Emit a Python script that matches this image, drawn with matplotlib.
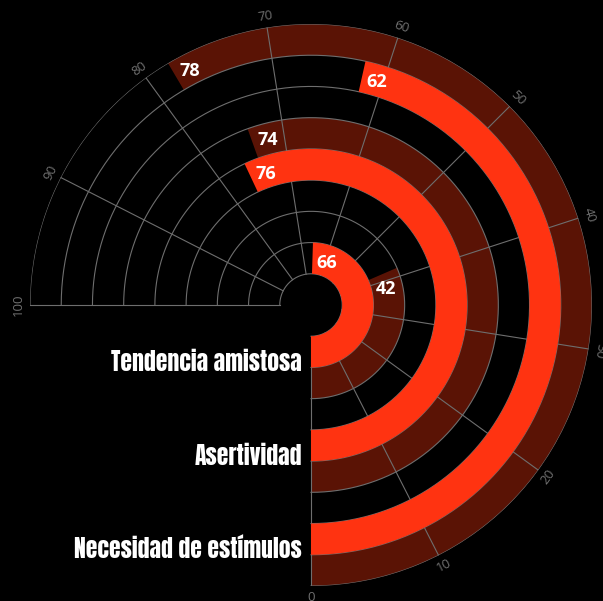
import numpy as np
import matplotlib
matplotlib.use("Agg")
import matplotlib.pyplot as plt
from matplotlib import transforms

categories = ["Tendencia amistosa", "Asertividad", "Necesidad de estímulos"]
bright_values = [66, 76, 62]
dark_values = [42, 74, 78]
tick_values = [0, 10, 20, 30, 40, 50, 60, 70, 80, 90, 100]

BRIGHT = "#ff3311"
DARK = "#621506"
GRID = "#6e6e6e"
SPAN = 1.5 * np.pi  # 0..100 covers 270 degrees


def ang(v):
    return v / 100.0 * SPAN


fig = plt.figure(figsize=(6.03, 6.01), dpi=100, facecolor="black")
# centre at (311, 305) px, outer radius 281 px
ax = fig.add_axes([30 / 603, 15 / 601, 562 / 603, 562 / 601], projection="polar")
ax.set_facecolor("black")
ax.set_theta_zero_location("S")
ax.set_theta_direction(1)
ax.set_ylim(0, 9)
ax.grid(False)
ax.set_xticks([])
ax.set_yticks([])
ax.spines["polar"].set_visible(False)
px_per_r = 281 / 9

# grid: circles and spokes on the 270 degree span
t = np.linspace(0, SPAN, 400)
for r in range(1, 10):
    ax.plot(t, np.full_like(t, r), color=GRID, lw=0.8, zorder=2)
for v in tick_values:
    ax.plot([ang(v), ang(v)], [1, 9], color=GRID, lw=0.8, zorder=2)
    rot = 2.7 * v
    if rot > 80:
        rot -= 180
    ax.text(ang(v), 9.36, str(v), color="#707070", fontsize=9.5, rotation=rot,
            ha="center", va="center", rotation_mode="anchor", family="Open Sans")

# bars: bright ring inside, dark ring outside, one group per category
for i, cat in enumerate(categories):
    rb = 1 + 3 * i
    rd = 2 + 3 * i
    ax.bar(0, 1, width=ang(bright_values[i]), bottom=rb, align="edge",
           color=BRIGHT, edgecolor="none", zorder=3)
    ax.bar(0, 1, width=ang(dark_values[i]), bottom=rd, align="edge",
           color=DARK, edgecolor="none", alpha=0.93, zorder=1.5)
    for val, r in [(bright_values[i], rb + 0.45), (dark_values[i], rd + 0.45)]:
        off = 15 / (r * px_per_r)
        ax.text(ang(val) - off, r, str(val), color="white", fontsize=13,
                fontweight="bold", family="Open Sans", ha="center", va="center", zorder=5)
    tr = transforms.offset_copy(ax.transData, fig=fig, x=-9, y=0, units="dots")
    ax.text(0, rb + 0.83, cat, color="white", fontsize=17,
            family=["Anton", "Oswald", "DejaVu Sans"], ha="right", va="center",
            transform=tr, zorder=5)

fig.savefig("out.png", dpi=100, facecolor="black")
